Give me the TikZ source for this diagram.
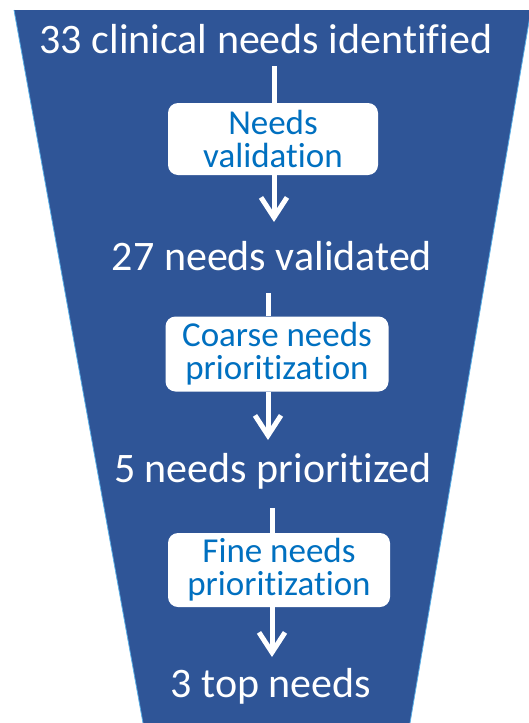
\documentclass[tikz,border=0pt]{standalone}
\usepackage{fontspec}
\setmainfont{Carlito}[Ligatures=NoCommon]
\usetikzlibrary{arrows.meta}
\definecolor{funnelblue}{RGB}{47,85,151}
\definecolor{funneledge}{RGB}{91,175,230}
\definecolor{boxtext}{RGB}{0,112,192}
\tikzset{
  stage/.style={text=white,font=\fontsize{42}{46}\selectfont,anchor=base},
  stepbox/.style={fill=white,rounded corners=10pt,text=boxtext,align=center,
    font=\fontsize{35}{33}\selectfont,inner sep=0pt},
  flow/.style={draw=white,line width=5pt},
  flowtip/.style={flow,-{Straight Barb[length=20pt,width=26pt]}}
}
\begin{document}
\begin{tikzpicture}[x=1pt,y=-1pt]
\useasboundingbox (0,0) rectangle (528,723);
\fill[funnelblue] (14,10) -- (531,10) -- (410,723) -- (143,723) -- cycle;
\draw[funneledge,line width=0.8pt] (14,10) -- (143,723);
\draw[funneledge,line width=0.8pt] (531,10) -- (410,723);
\node[stage] (s1) at (266,53) {33 clinical needs identified};
\node[stage] (s2) at (272,270) {27 needs validated};
\node[stage] (s3) at (273,482) {5 needs prioritized};
\node[stage] (s4) at (271,697) {3 top needs};
\node[stepbox,minimum width=210pt,minimum height=72pt] (b1) at (273,139) {Needs\\validation};
\node[stepbox,minimum width=223pt,minimum height=75pt] (b2) at (277,354) {Coarse needs\\prioritization};
\node[stepbox,minimum width=222pt,minimum height=74pt] (b3) at (279,570) {Fine needs\\prioritization};
\coordinate (a1) at (274,66);
\coordinate (t1) at (274,222);
\coordinate (a2) at (268,293);
\coordinate (t2) at (268,440);
\coordinate (a3) at (272,508);
\coordinate (t3) at (272,657);
\draw[flow] (a1) -- (a1 |- b1.north);
\draw[flowtip] (a1 |- b1.south) -- (t1);
\draw[flow] (a2) -- (a2 |- b2.north);
\draw[flowtip] (a2 |- b2.south) -- (t2);
\draw[flow] (a3) -- (a3 |- b3.north);
\draw[flowtip] (a3 |- b3.south) -- (t3);
\end{tikzpicture}
\end{document}
